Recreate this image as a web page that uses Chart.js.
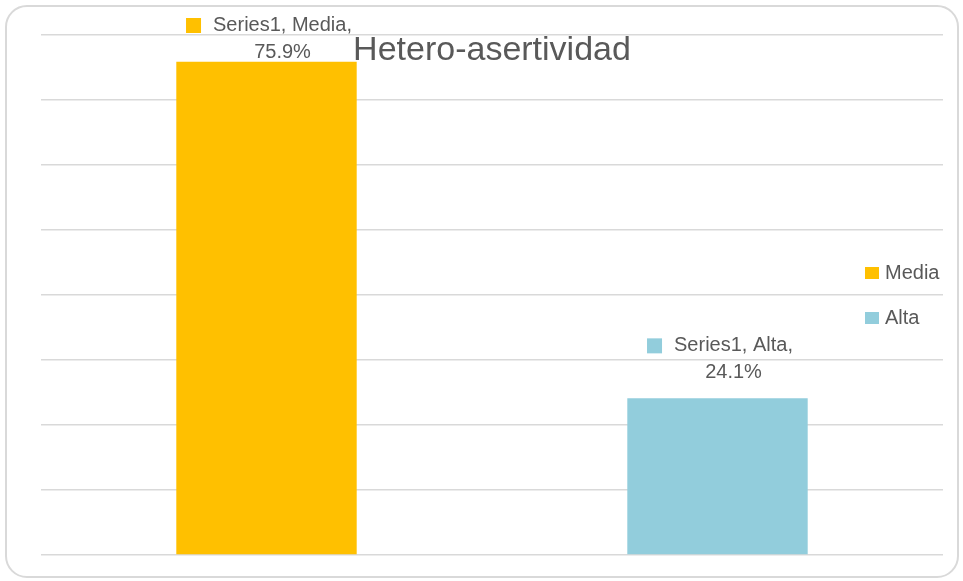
<!DOCTYPE html>
<html>
<head>
<meta charset="utf-8">
<script src="https://cdn.jsdelivr.net/npm/chart.js@4/dist/chart.umd.min.js"></script>
<style>
  html, body { margin: 0; padding: 0; background: #fff; }
  #wrap { position: relative; width: 963px; height: 581px; }
  #frame {
    position: absolute; left: 5px; top: 5px; width: 950px; height: 569px;
    border: 2px solid #d9d9d9; border-radius: 22px; pointer-events: none;
  }
</style>
</head>
<body>
<div id="wrap">
  <canvas id="chart" width="963" height="581"></canvas>
  <div id="frame"></div>
</div>
<script>
// Chart data
const title = "Hetero-asertividad";
const seriesName = "Series1";
const categories = ["Media", "Alta"];
const values = [75.9, 24.1];
const barColors = ["#FFC000", "#92CDDC"];
const yMax = 80;
const yStep = 10;

const textColor = "#595959";
const font = "Liberation Sans, Arial, sans-serif";

// labels, title and legend drawn on top of the plot
const overlay = {
    id: "overlay",
    afterDatasetsDraw(chart) {
        const ctx = chart.ctx;
        const area = chart.chartArea;
        const meta = chart.getDatasetMeta(0);
        ctx.save();
        ctx.fillStyle = textColor;
        ctx.textBaseline = "middle";

        // data labels
        ctx.font = "20px " + font;
        meta.data.forEach((bar, i) => {
            const line1 = seriesName + ", " + categories[i] + ",";
            const line2 = values[i].toFixed(1) + "%";
            const cx = bar.x + 16;
            let y1 = bar.y - 53;
            if (y1 < area.top - 10) y1 = area.top - 10;
            const y2 = y1 + 27;
            ctx.textAlign = "center";
            ctx.fillStyle = textColor;
            ctx.fillText(line1, cx, y1);
            ctx.fillText(line2, cx, y2);
            const w = ctx.measureText(line1).width;
            ctx.fillStyle = barColors[i];
            ctx.fillRect(cx - w / 2 - 27, y1 - 7, 15, 15);
        });

        // title
        ctx.fillStyle = textColor;
        ctx.textAlign = "center";
        ctx.font = "34px " + font;
        ctx.fillText(title, (area.left + area.right) / 2, area.top + 16);

        // legend
        ctx.font = "20px " + font;
        ctx.textAlign = "left";
        const midY = (area.top + area.bottom) / 2;
        categories.forEach((c, i) => {
            const y = midY - 22 + i * 45;
            ctx.fillStyle = barColors[i];
            ctx.fillRect(area.right - 78, y - 6, 14, 12);
            ctx.fillStyle = textColor;
            ctx.fillText(c, area.right - 58, y);
        });
        ctx.restore();
    }
};

new Chart(document.getElementById("chart"), {
    type: "bar",
    data: {
        labels: categories,
        datasets: [{
            label: seriesName,
            data: values,
            backgroundColor: barColors,
            borderWidth: 0,
            categoryPercentage: 1,
            barPercentage: 0.4
        }]
    },
    options: {
        responsive: false,
        animation: false,
        layout: { padding: { left: 41, right: 20, top: 35, bottom: 26 } },
        plugins: {
            legend: { display: false },
            title: { display: false },
            tooltip: { enabled: false }
        },
        scales: {
            x: {
                display: true,
                grid: { display: false, drawTicks: false },
                border: { display: false },
                ticks: { display: false }
            },
            y: {
                min: 0,
                max: yMax,
                ticks: { display: false, stepSize: yStep },
                grid: { color: "#d9d9d9", lineWidth: 1.5, drawTicks: false },
                border: { display: false }
            }
        }
    },
    plugins: [overlay]
});
</script>
</body>
</html>
